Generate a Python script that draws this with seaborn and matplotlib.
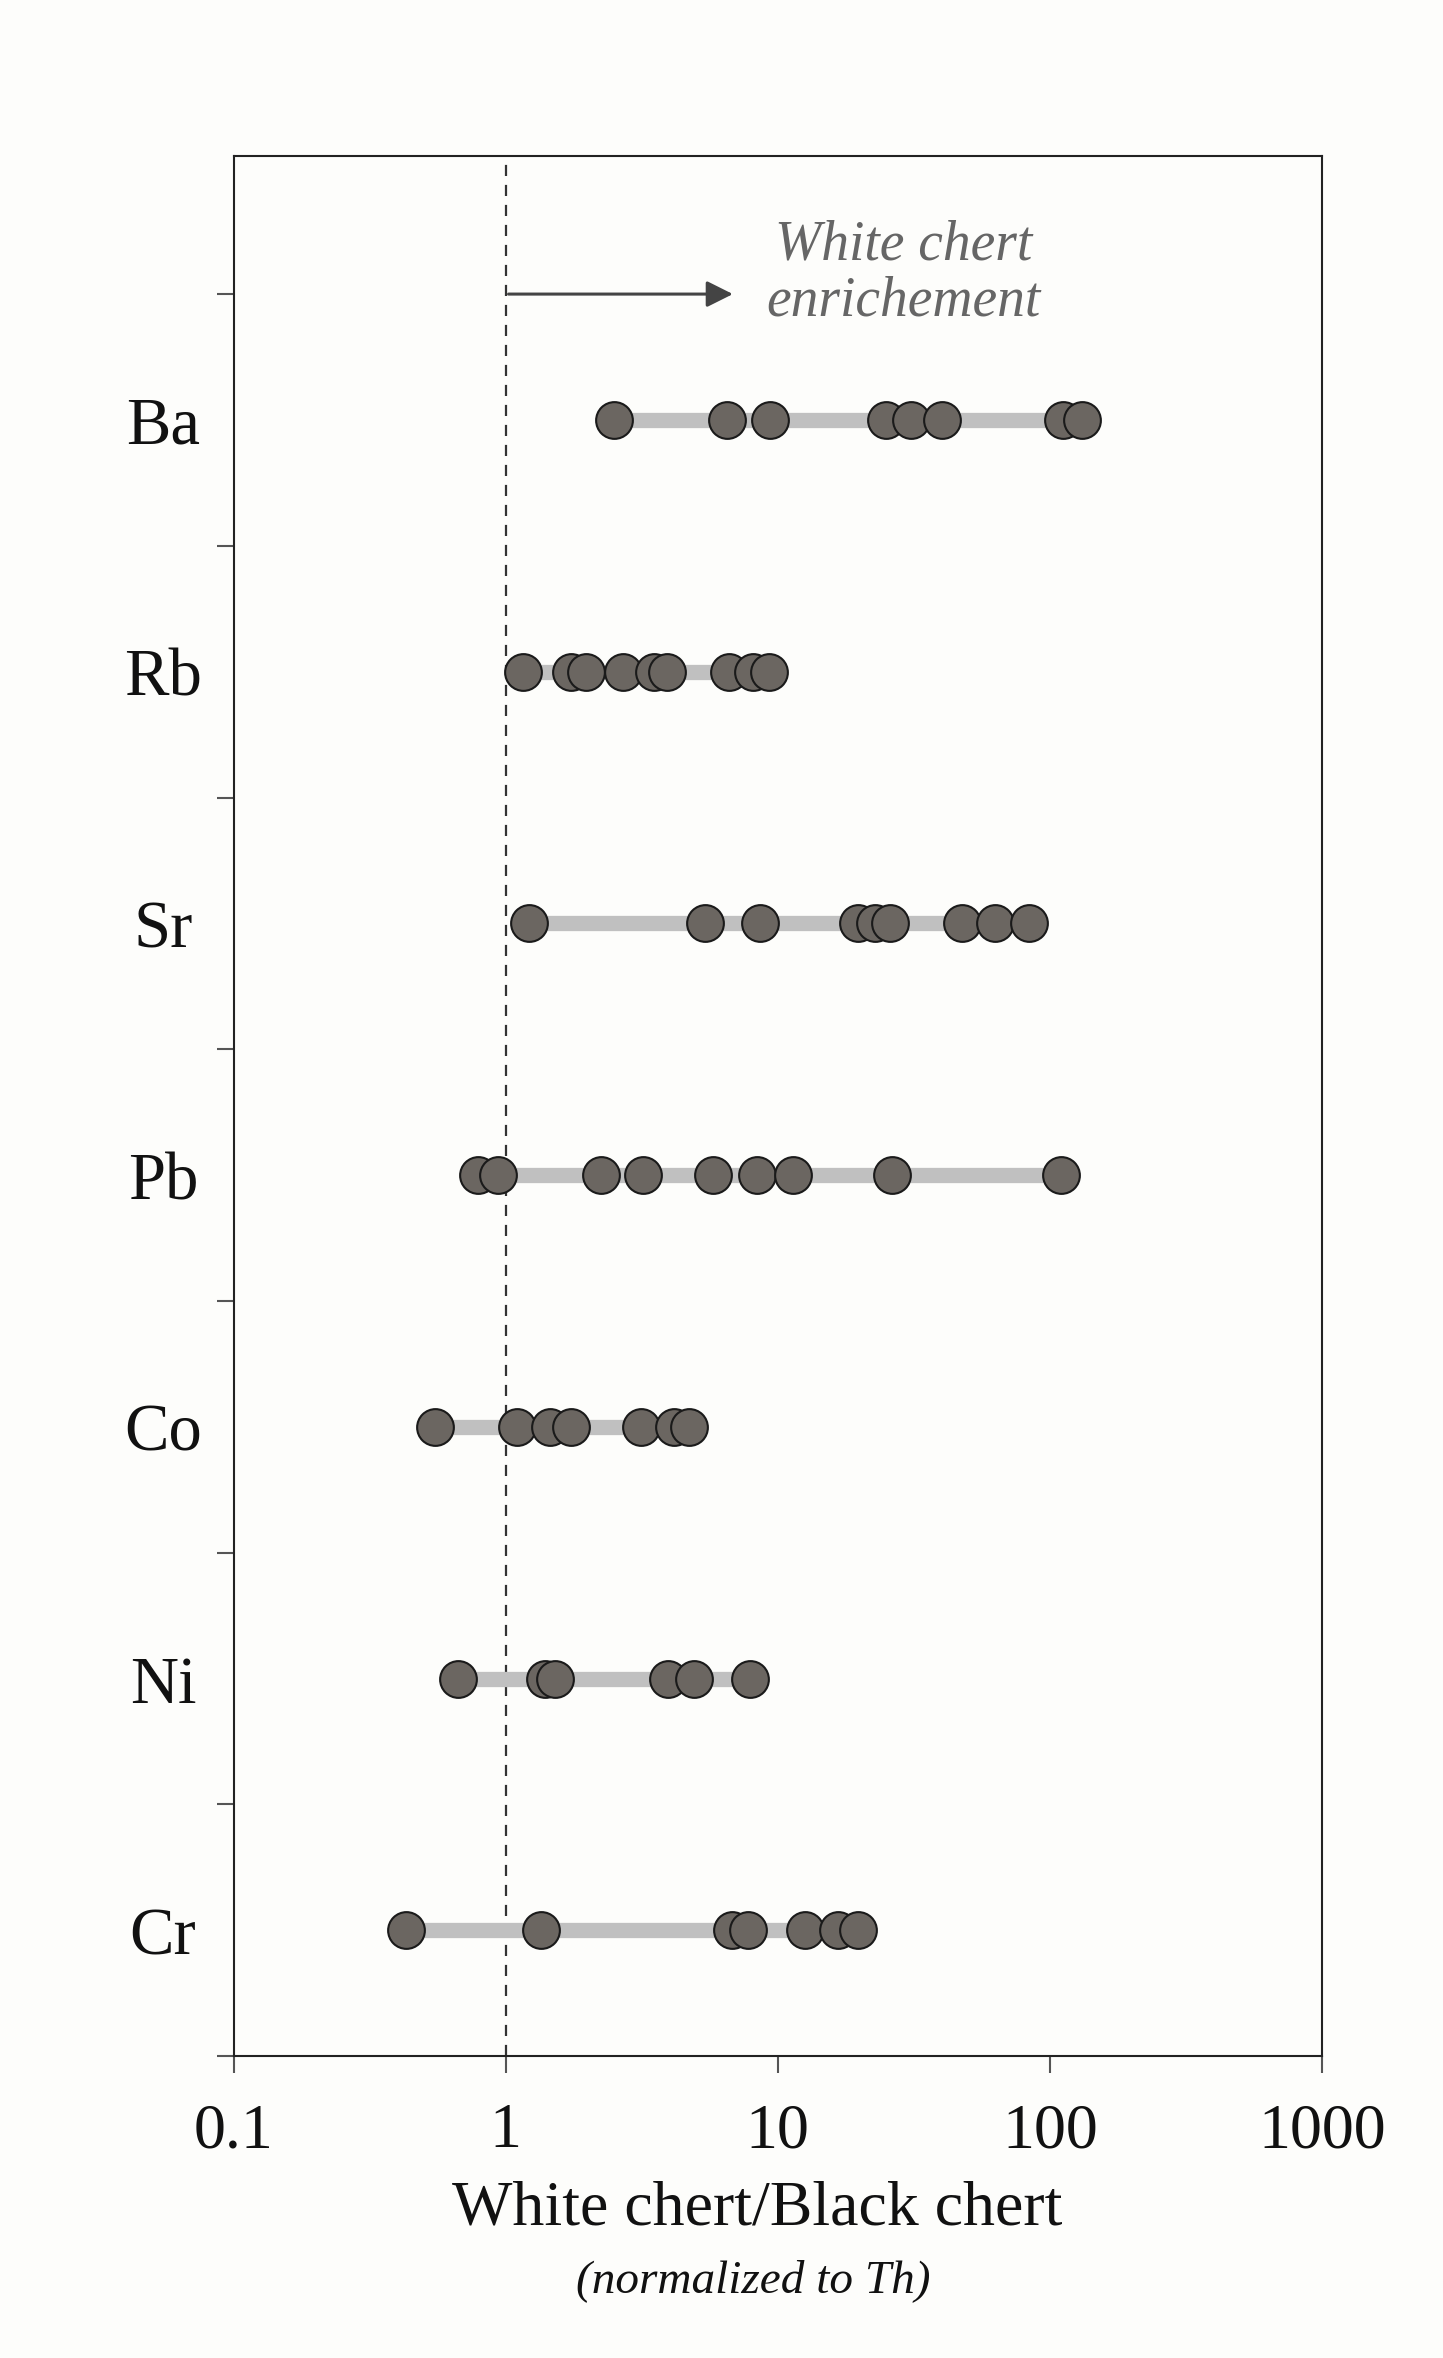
import numpy as np
import pandas as pd
import seaborn as sns
import matplotlib.pyplot as plt

elements = ["Ba", "Rb", "Sr", "Pb", "Co", "Ni", "Cr"]
ba = [2.5, 6.5, 9.4, 25, 31, 40, 112, 131]
rb = [1.16, 1.74, 1.97, 2.7, 3.5, 3.9, 6.6, 8.1, 9.3]
sr = [1.22, 5.4, 8.6, 19.8, 22.7, 25.8, 47.5, 63, 84]
pb = [0.79, 0.94, 2.24, 3.2, 5.8, 8.4, 11.4, 26.4, 110]
co = [0.55, 1.1, 1.46, 1.74, 3.15, 4.15, 4.7]
ni = [0.67, 1.39, 1.52, 3.95, 4.9, 7.9]
cr = [0.43, 1.35, 6.8, 7.8, 12.6, 16.6, 19.8]
ratios = [ba, rb, sr, pb, co, ni, cr]

rows = []
for i, (el, vals) in enumerate(zip(elements, ratios)):
    for v in vals:
        rows.append({"element": el, "pos": i, "ratio": v})
df = pd.DataFrame(rows)

sns.set_style("ticks")
plt.rcParams["font.family"] = ["Liberation Serif", "DejaVu Serif"]
bg = "#fdfdfb"
fig = plt.figure(figsize=(14.43, 23.58), dpi=100, facecolor=bg)
ax = fig.add_axes([0.162, 0.128, 0.754, 0.806])
ax.set_facecolor(bg)

# gray range bars
for i, vals in enumerate(ratios):
    ax.plot([min(vals), max(vals)], [i, i], color="#c0c0c0", lw=11, zorder=1,
            solid_capstyle="butt")

sns.scatterplot(data=df, x="ratio", y="pos", ax=ax, s=700, color="#6b6661",
                edgecolor="#1a1a1a", linewidth=1.5, zorder=3, legend=False)

ax.set_xscale("log")
ax.set_xlim(0.1, 1000)
ax.set_ylim(6.5, -1.05)
ax.axvline(1, color="#333333", lw=1.6, ls=(0, (5, 4)), zorder=0)

ax.set_yticks(np.arange(-0.5, 7, 1))
ax.set_yticklabels([])
ax.tick_params(axis="y", length=12, width=1.5, colors="#555555")
ax.tick_params(axis="x", length=12, width=1.5, labelsize=46, colors="#555555",
               labelcolor="#111111", which="major", pad=22)
ax.tick_params(axis="x", which="minor", length=0)
ax.set_xticks([0.1, 1, 10, 100, 1000])
ax.set_xticklabels(["0.1", "1", "10", "100", "1000"])
for i, el in enumerate(elements):
    ax.text(-0.065, i + 0.03, el, transform=ax.get_yaxis_transform(), ha="center",
            va="center", fontsize=48, color="#111111")

ax.set_xlabel("")
ax.set_ylabel("")
fig.text(0.525, 0.063, "White chert/Black chert", ha="center", va="center",
         fontsize=46, color="#111111")
fig.text(0.522, 0.033, "(normalized to Th)", ha="center", va="center",
         fontsize=34, style="italic", color="#111111")

ax.annotate("", xy=(7.0, -0.5), xytext=(1.0, -0.5),
            arrowprops=dict(arrowstyle="-|>", color="#444444", lw=2.2,
                            mutation_scale=40))
ax.text(29, -0.58, "White chert\nenrichement", ha="center", va="center",
        fontsize=40, style="italic", color="#666666", linespacing=1.1)

for sp in ax.spines.values():
    sp.set_linewidth(1.5)
    sp.set_color("#222222")

fig.savefig("out.png", dpi=100, facecolor=bg)
